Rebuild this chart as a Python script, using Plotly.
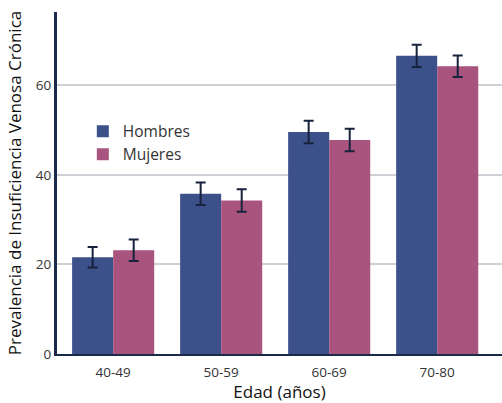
import plotly.graph_objects as go

categories = ["40-49", "50-59", "60-69", "70-80"]
hombres = [21.6, 35.8, 49.6, 66.6]
hombres_err = [2.3, 2.5, 2.5, 2.5]
mujeres = [23.2, 34.3, 47.8, 64.3]
mujeres_err = [2.4, 2.5, 2.5, 2.4]

font_family = "Open Sans, Noto Sans, sans-serif"
err_color = "#17223d"

fig = go.Figure()
fig.add_trace(go.Bar(
    name="Hombres", x=categories, y=hombres,
    marker=dict(color="#3c5189", line=dict(width=0)),
    error_y=dict(type="data", array=hombres_err, color=err_color, thickness=2, width=5),
))
fig.add_trace(go.Bar(
    name="Mujeres", x=categories, y=mujeres,
    marker=dict(color="#a9547f", line=dict(width=0)),
    error_y=dict(type="data", array=mujeres_err, color=err_color, thickness=2, width=5),
))

fig.update_layout(
    width=502, height=403,
    margin=dict(l=57, r=0, t=12, b=49, autoexpand=False),
    paper_bgcolor="white", plot_bgcolor="white",
    barmode="group", bargap=0.24, bargroupgap=0,
    font=dict(family=font_family, color="#333333"),
    showlegend=True,
    legend=dict(x=0.058, y=0.70, xanchor="left", yanchor="top",
                font=dict(size=15.5, color="#333333"),
                bgcolor="rgba(0,0,0,0)", tracegroupgap=0),
    xaxis=dict(
        range=[-0.52, 3.6],
        showline=True, linecolor="#1c2a4a", linewidth=2,
        ticks="", tickfont=dict(size=13.5, color="#333333"),
        ticklabelstandoff=5,
        title=dict(text="Edad (años)", font=dict(size=17, color="#111111"), standoff=6),
        showgrid=False,
    ),
    yaxis=dict(
        range=[0, 76.4],
        tickvals=[0, 20, 40, 60],
        showline=True, linecolor="#1c2a4a", linewidth=3,
        ticks="", tickfont=dict(size=13.5, color="#333333"),
        showgrid=True, gridcolor="#cfcfd6", gridwidth=1.5,
        zeroline=False,
        title=dict(text="Prevalencia de Insuficiencia Venosa Crónica",
                   font=dict(size=17, color="#111111"), standoff=10),
    ),
)

fig.write_html(
    "out.html",
    config={"displayModeBar": False},
    post_script="document.body.style.margin='0';document.body.style.overflow='hidden';",
)
